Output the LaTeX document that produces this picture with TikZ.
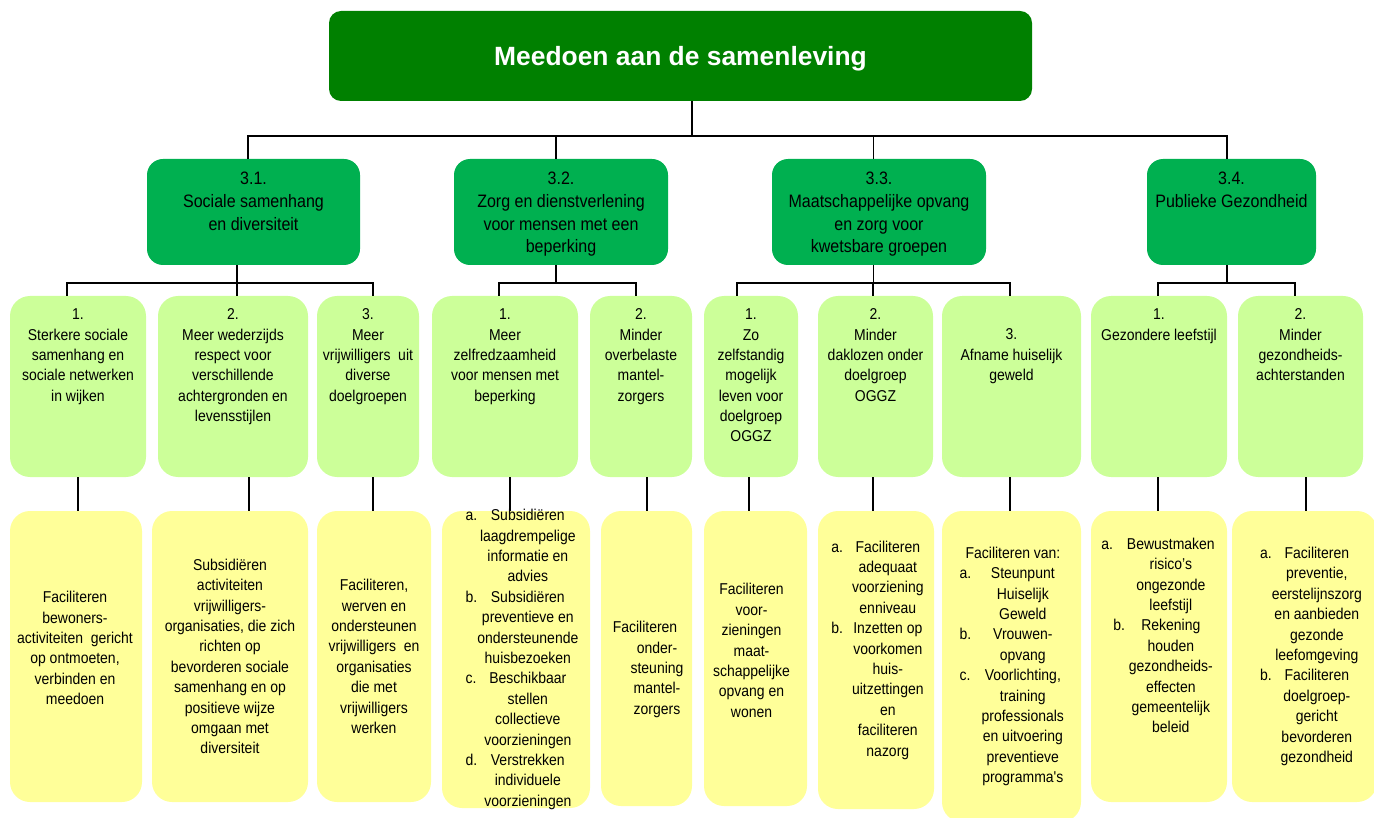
\documentclass[tikz,border=0pt]{standalone}
\usepackage{fontspec}
\setmainfont{Liberation Sans}
\newfontfamily\narrowsans[FakeStretch=0.89]{Liberation Sans}
\usetikzlibrary{positioning}
\definecolor{goalgreen}{HTML}{008000}
\definecolor{themegreen}{HTML}{00B050}
\definecolor{aimgreen}{HTML}{CCFF99}
\definecolor{actyellow}{HTML}{FFFF99}

\begin{document}
\begin{tikzpicture}[x=1pt, y=-1pt,
    every node/.style={inner sep=0pt, outer sep=0pt},
    goalbox/.style={fill=goalgreen, rounded corners=12pt},
    goaltxt/.style={text=white, font=\fontsize{26.4}{30}\selectfont\bfseries},
    themebox/.style={fill=themegreen, rounded corners=16pt, minimum height=106pt},
    themetxt/.style={align=center, font=\narrowsans\fontsize{18}{22.8}\selectfont},
    aimbox/.style={fill=aimgreen, rounded corners=20pt, minimum height=181pt},
    aimtxt/.style={align=center, font=\narrowsans\fontsize{15.7}{20.3}\selectfont},
    actbox/.style={fill=actyellow, rounded corners=20pt, minimum height=291pt},
    acttxt/.style={align=center, font=\narrowsans\fontsize{15.7}{20.4}\selectfont},
    tree/.style={line width=1.3pt}]
  \useasboundingbox (0,0) rectangle (1374,818);

  % main goal
  \node[goalbox, minimum width=703pt, minimum height=90pt] (goal) at (680.5,56) {};
  \node[goaltxt] (goaltxt) at ([yshift=-3pt]goal.center) {Meedoen aan de samenleving};

  % themes 3.1 - 3.4
  \node[themebox, minimum width=213pt] (th1) at (253.5,212) {};
  \node[themebox, minimum width=214pt] (th2) at (561,212) {};
  \node[themebox, minimum width=214pt] (th3) at (879,212) {};
  \node[themebox, minimum width=169pt] (th4) at (1231.5,212) {};
  \node[themetxt, below=13pt of th1.north] (th1txt) {3.1.\\Sociale samenhang\\en diversiteit};
  \node[themetxt, below=13pt of th2.north] (th2txt) {3.2.\\Zorg en dienstverlening\\voor mensen met een\\beperking};
  \node[themetxt, below=13pt of th3.north] (th3txt) {3.3.\\Maatschappelijke opvang\\en zorg voor\\kwetsbare groepen};
  \node[themetxt, below=13pt of th4.north] (th4txt) {3.4.\\Publieke Gezondheid};

  % aims
  \node[aimbox, minimum width=136pt] (aim11) at (78,386.5) {};
  \node[aimbox, minimum width=150pt] (aim12) at (233,386.5) {};
  \node[aimbox, minimum width=102pt] (aim13) at (368,386.5) {};
  \node[aimbox, minimum width=146pt] (aim21) at (505,386.5) {};
  \node[aimbox, minimum width=102pt] (aim22) at (641,386.5) {};
  \node[aimbox, minimum width=94pt] (aim31) at (751,386.5) {};
  \node[aimbox, minimum width=115pt] (aim32) at (875.5,386.5) {};
  \node[aimbox, minimum width=139pt] (aim33) at (1011.5,386.5) {};
  \node[aimbox, minimum width=136pt] (aim41) at (1159,386.5) {};
  \node[aimbox, minimum width=125pt] (aim42) at (1300.5,386.5) {};
  \node[aimtxt, below=13pt of aim11.north] (aim11txt) {1.\\Sterkere sociale\\samenhang en\\sociale netwerken\\in wijken};
  \node[aimtxt, below=13pt of aim12.north] (aim12txt) {2.\\Meer wederzijds\\respect voor\\verschillende\\achtergronden en\\levensstijlen};
  \node[aimtxt, below=13pt of aim13.north] (aim13txt) {3.\\Meer\\vrijwilligers~ uit\\diverse\\doelgroepen};
  \node[aimtxt, below=13pt of aim21.north] (aim21txt) {1.\\Meer\\zelfredzaamheid\\voor mensen met\\beperking};
  \node[aimtxt, below=13pt of aim22.north] (aim22txt) {2.\\Minder\\overbelaste\\mantel-\\zorgers};
  \node[aimtxt, below=13pt of aim31.north] (aim31txt) {1.\\Zo\\zelfstandig\\mogelijk\\leven voor\\doelgroep\\OGGZ};
  \node[aimtxt, below=13pt of aim32.north] (aim32txt) {2.\\Minder\\daklozen onder\\doelgroep\\OGGZ};
  \node[aimtxt, below=33pt of aim33.north] (aim33txt) {3.\\Afname huiselijk\\geweld};
  \node[aimtxt, below=13pt of aim41.north] (aim41txt) {1.\\Gezondere leefstijl};
  \node[aimtxt, below=13pt of aim42.north] (aim42txt) {2.\\Minder\\gezondheids-\\achterstanden};

  % activities
  \node[actbox, minimum width=132pt] (act11) at (76,656.5) {};
  \node[actbox, minimum width=156pt] (act12) at (230,656.5) {};
  \node[actbox, minimum width=114pt] (act13) at (374,656.5) {};
  \node[actbox, minimum width=148pt, minimum height=297pt] (act21) at (516,659.5) {};
  \node[actbox, minimum width=91pt, minimum height=295pt] (act22) at (646.5,658.5) {};
  \node[actbox, minimum width=103pt, minimum height=295pt] (act31) at (755.5,658.5) {};
  \node[actbox, minimum width=116pt, minimum height=298pt] (act32) at (876,660) {};
  \node[actbox, minimum width=139pt, minimum height=311pt] (act33) at (1011.5,666.5) {};
  \node[actbox, minimum width=136pt] (act41) at (1159,656.5) {};
  \node[actbox, minimum width=145pt] (act42) at (1304.5,656.5) {};

  \node[acttxt] (act11txt) at ([xshift=-1pt, yshift=8.5pt]act11.center)
    {Faciliteren\\bewoners-\\activiteiten~ gericht\\op ontmoeten,\\verbinden en\\meedoen};
  \node[acttxt] (act12txt) at (act12.center)
    {Subsidiëren\\activiteiten\\vrijwilligers-\\organisaties, die zich\\richten op\\bevorderen sociale\\samenhang en op\\positieve wijze\\omgaan met\\diversiteit};
  \node[acttxt] (act13txt) at (act13.center)
    {Faciliteren,\\werven en\\ondersteunen\\vrijwilligers~ en\\organisaties\\die met\\vrijwilligers\\werken};
  \node[acttxt] (act21txt) at ([xshift=6pt]act21.center)
    {\begin{tabular}{@{}l@{}c@{}}
      a. & Subsidiëren\\ & laagdrempelige\\ & informatie en\\ & advies\\
      b. & Subsidiëren\\ & preventieve en\\ & ondersteunende\\ & huisbezoeken\\
      c. & Beschikbaar\\ & stellen\\ & collectieve\\ & voorzieningen\\
      d. & Verstrekken\\ & individuele\\ & voorzieningen
    \end{tabular}};
  \node[acttxt] (act22txt) at ([xshift=-1.5pt, yshift=-11pt]act22.center)
    {Faciliteren\\\hspace*{24pt}onder-\\\hspace*{24pt}steuning\\\hspace*{24pt}mantel-\\\hspace*{24pt}zorgers};
  \node[acttxt] (act31txt) at ([xshift=-4pt, yshift=8pt]act31.center)
    {Faciliteren\\voor-\\zieningen\\maat-\\schappelijke\\opvang en\\wonen};
  \node[acttxt] (act32txt) at ([xshift=1.5pt, yshift=10pt]act32.center)
    {\begin{tabular}{@{}l@{\hspace{9pt}}c@{}}
      a. & Faciliteren\\ & adequaat\\ & voorziening\\ & enniveau\\
      b. & Inzetten op\\ & voorkomen\\ & huis-\\ & uitzettingen\\ & en\\ & faciliteren\\ & nazorg
    \end{tabular}};
  \node[acttxt] (act33txt) at ([xshift=1.5pt]act33.center)
    {\begin{tabular}{@{}l@{\hspace{8pt}}c@{}}
      \multicolumn{2}{c}{Faciliteren van:}\\
      a. & Steunpunt\\ & Huiselijk\\ & Geweld\\
      b. & Vrouwen-\\ & opvang\\
      c. & Voorlichting,\\ & training\\ & professionals\\ & en uitvoering\\ & preventieve\\ & programma's
    \end{tabular}};
  \node[acttxt] (act41txt) at ([xshift=-1pt, yshift=19.5pt]act41.center)
    {\begin{tabular}{@{}l@{\hspace{2pt}}c@{}}
      a. & Bewustmaken\\ & risico’s\\ & ongezonde\\ & leefstijl\\
      \hspace*{12pt}b. & Rekening\\ & houden\\ & gezondheids-\\ & effecten\\ & gemeentelijk\\ & beleid
    \end{tabular}};
  \node[acttxt] (act42txt) at ([xshift=6.5pt]act42.center)
    {\begin{tabular}{@{}l@{}c@{}}
      a. & Faciliteren\\ & preventie,\\ & eerstelijnszorg\\ & en aanbieden\\ & gezonde\\ & leefomgeving\\
      b. & Faciliteren\\ & doelgroep-\\ & gericht\\ & bevorderen\\ & gezondheid
    \end{tabular}};

  % goal -> themes
  \coordinate (hub) at (692,136);
  \draw[tree] ([xshift=11.5pt]goal.south) -- (hub);
  \draw[tree] ([xshift=-5.5pt]th1.north) |- (hub)
              ([xshift=-5pt]th2.north) |- (hub)
              ([xshift=-5.4pt]th3.north) |- (hub)
              ([xshift=-4.5pt]th4.north) |- (hub);

  % themes -> aims
  \draw[tree] ([xshift=-16.5pt]th1.south) -- ++(0,18) coordinate (hub1);
  \draw[tree] (hub1) -| ([xshift=-11pt]aim11.north)
              (hub1) -| ([xshift=4pt]aim12.north)
              (hub1) -| ([xshift=5pt]aim13.north);
  \draw[tree] ([xshift=-5pt]th2.south) -- ++(0,18) coordinate (hub2);
  \draw[tree] (hub2) -| ([xshift=-6pt]aim21.north)
              (hub2) -| ([xshift=-5pt]aim22.north);
  \draw[tree] ([xshift=-5.4pt]th3.south) -- ++(0,18) coordinate (hub3);
  \draw[tree] (hub3) -| ([xshift=-14pt]aim31.north)
              (hub3) -| ([xshift=-2.5pt]aim32.north)
              (hub3) -| ([xshift=-1.5pt]aim33.north);
  \draw[tree] ([xshift=-4.5pt]th4.south) -- ++(0,18) coordinate (hub4);
  \draw[tree] (hub4) -| ([xshift=-1pt]aim41.north)
              (hub4) -| ([xshift=-5.5pt]aim42.north);

  % aims -> activities
  \draw[tree] (aim11.south) -- ++(0,34)
              ([xshift=16pt]aim12.south) -- ++(0,34)
              ([xshift=5pt]aim13.south) -- ++(0,34)
              ([xshift=5pt]aim21.south) -- ++(0,34)
              ([xshift=6pt]aim22.south) -- ++(0,34)
              ([xshift=-2pt]aim31.south) -- ++(0,34)
              ([xshift=-2.5pt]aim32.south) -- ++(0,34)
              ([xshift=-1.5pt]aim33.south) -- ++(0,34)
              ([xshift=-1pt]aim41.south) -- ++(0,34)
              ([xshift=5.5pt]aim42.south) -- ++(0,34);
\end{tikzpicture}
\end{document}
